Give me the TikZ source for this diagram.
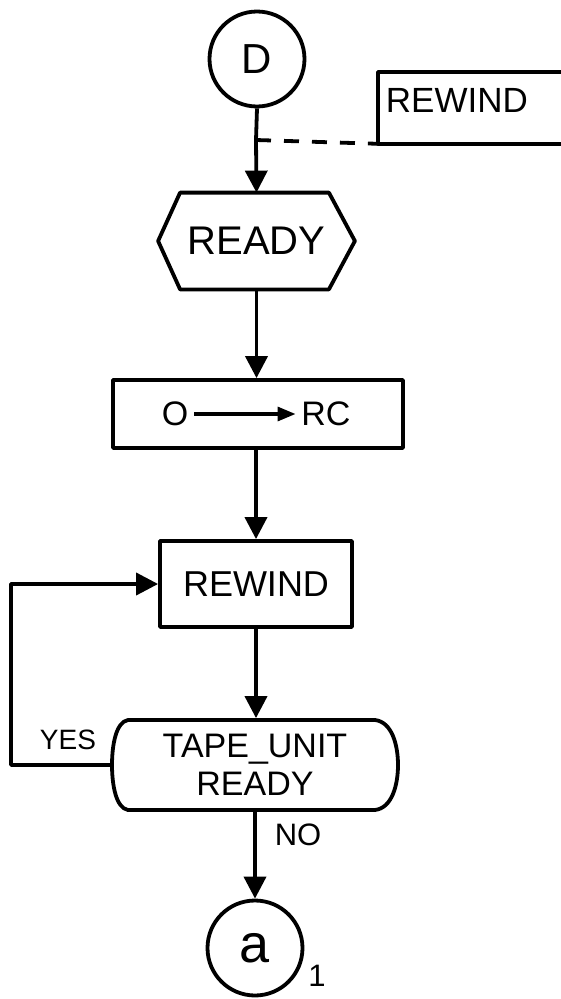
\documentclass[tikz,border=0pt]{standalone}
\usepackage{fontspec}
\setmainfont{Liberation Sans}
\usetikzlibrary{arrows.meta}
\begin{document}
\begin{tikzpicture}[x=1pt,y=-1pt,line width=3.8pt,line join=round,
  arr/.style={-{Triangle[length=22pt,width=22pt]}},
  smallarr/.style={-{Triangle[length=18pt,width=14pt]},line width=3.2pt},
  fs/.style={font=\fontsize{#1}{#1}\selectfont},
  box/.style={draw,rectangle,inner sep=0pt},
  ghost/.style={rectangle,inner sep=0pt},
  conn/.style={circle,draw,inner sep=0pt,minimum size=95pt}]
\useasboundingbox (0,0) rectangle (560,999);

% connectors (circles)
\node[conn,fs=42] (d) at (257,59) {D};
\node[conn,fs=54] (a) at (255,948) {a};
\node[fs=31,inner sep=0pt] (one) at (317,976) {1};

% top REWIND (open box, runs off the page)
\node[ghost,minimum width=190pt,minimum height=68pt,anchor=north west] (rwbox) at (378,72) {};
\draw (rwbox.north east) -- (rwbox.north west) -- (rwbox.south west) -- (rwbox.south east);
\node[fs=35,inner sep=0pt,anchor=west] (rwtext) at (384,100) {REWIND};

% READY hexagon
\node[ghost,minimum width=193pt,minimum height=93pt,fs=40] (ready) at (256.5,241) {READY};
\draw ([xshift=22pt]ready.north west) -- ([xshift=-26pt]ready.north east) -- (ready.east)
  -- ([xshift=-26pt]ready.south east) -- ([xshift=22pt]ready.south west) -- (ready.west) -- cycle;

% 0 -> RC
\node[box,minimum width=290pt,minimum height=68pt] (orc) at (258,414) {};
\node[fs=34,inner sep=0pt] (o) at (175,414) {O};
\node[fs=34,inner sep=0pt] (rc) at (326,414) {RC};
\draw[smallarr,shorten <=4pt,shorten >=4pt] (o.east) -- (rc.west);

% REWIND box
\node[box,minimum width=192pt,minimum height=86pt,fs=36] (rw2) at (256,584) {REWIND};

% decision
\node[ghost,minimum width=286pt,minimum height=90pt,fs=34,align=center] (dec) at (255,765)
  {TAPE\_UNIT\\[4pt]READY};
\draw (128,720) -- (375,720) .. controls (392,722) and (398,745) .. (398,765)
  .. controls (398,785) and (392,808) .. (375,810) -- (128,810)
  .. controls (116,808) and (112,785) .. (112,765)
  .. controls (112,745) and (116,722) .. cycle;

% connectors
\coordinate (j) at (256,140);
\draw (d.south) -- (j);
\draw[arr] (j) -- (ready.north);
\draw[dashed,dash pattern=on 15pt off 13pt] (j) -- (rwbox.south west);
\draw[arr] (ready.south) -- (ready.south |- orc.north);
\draw[arr] (orc.south -| rw2.north) -- (rw2.north);
\draw[arr] (rw2.south) -- (rw2.south |- dec.north);
\draw[arr] (dec.west) -| ([xshift=-147pt]rw2.west) -- (rw2.west);
\draw[arr] (dec.south) -- (a.north);

% labels
\node[fs=28,inner sep=0pt] (yes) at (68,740) {YES};
\node[fs=31,inner sep=0pt] (no) at (298,835) {NO};
\end{tikzpicture}
\end{document}
